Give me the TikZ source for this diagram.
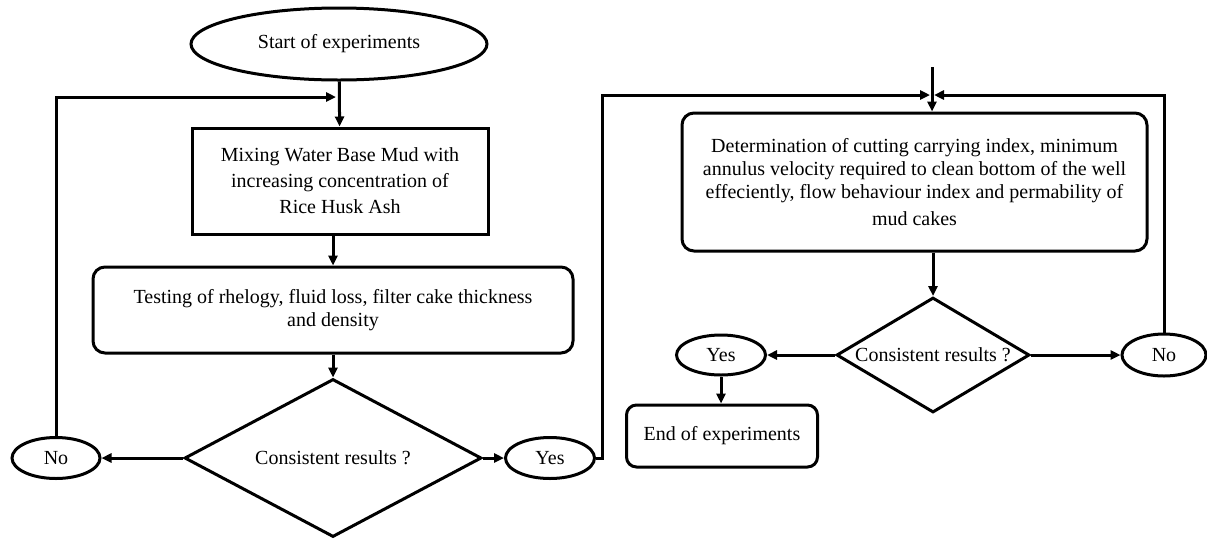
\documentclass[tikz,border=0pt]{standalone}
\usepackage{fontspec}
\setmainfont{Liberation Serif}
\usetikzlibrary{arrows.meta,shapes.geometric}
\begin{document}
\begin{tikzpicture}[x=1pt,y=-1pt,line width=3pt,
  font=\fontsize{20}{23}\selectfont,
  term/.style={draw,ellipse,inner sep=0pt},
  proc/.style={draw,rectangle,align=center,inner sep=0pt},
  rproc/.style={proc,rounded corners=12pt},
  dec/.style={draw,diamond,inner sep=0pt},
  arr/.style={-{Triangle[length=10pt,width=9pt]}}]
\useasboundingbox (0,0) rectangle (1207,539);

% left column
\node[term,minimum width=296,minimum height=72] (start) at (339,44) {Start of experiments};
\node[proc,minimum width=296,minimum height=106,font=\fontsize{20}{26}\selectfont] (mix) at (340,181)
  {Mixing Water Base Mud with\\increasing concentration of\\Rice Husk Ash};
\node[rproc,minimum width=480,minimum height=86] (test) at (333,310)
  {Testing of rhelogy, fluid loss, filter cake thickness\\and density};
\node[dec,minimum width=297,minimum height=158] (d1) at (333,458) {\makebox[0pt]{Consistent results ?}};
\node[term,minimum width=88,minimum height=41] (no1) at (56,458) {No};
\node[term,minimum width=89,minimum height=41] (yes1) at (550,458) {Yes};

% right column
\node[rproc,minimum width=465,minimum height=138] (det) at (914.5,182)
  {Determination of cutting carrying index, minimum\\annulus velocity required to clean bottom of the well\\effeciently, flow behaviour index and permability of\\[4pt]mud cakes};
\node[dec,minimum width=193,minimum height=115] (d2) at (933,355) {\makebox[0pt]{Consistent results ?}};
\node[term,minimum width=89,minimum height=40] (yes2) at (721,355) {Yes};
\node[term,minimum width=84,minimum height=42] (no2) at (1164,355) {No};
\node[rproc,rounded corners=10pt,minimum width=191,minimum height=62] (end) at (722,436) {End of experiments};

\coordinate (top) at (932,67);
\coordinate (j1) at (336,97);
\coordinate (r1) at (602,95);
\coordinate (j2) at (930,95);
\coordinate (j3) at (934,95);

% connectors
\draw[arr] (start) -- (mix);
\draw[arr] (test.north |- mix.south) -- (test.north);
\draw[arr] (test) -- (d1);
\draw[arr] (d1.west) -- (no1.east);
\draw[arr] (d1.east) -- (yes1.west);
\draw[arr] (no1.north) |- (j1);
\draw[arr] (yes1.east) -| (r1) -- (j2);
\draw[arr] (top) -- (det.north -| top);
\draw[arr] (no2.north) |- (j3);
\draw[arr] (det.south -| d2.north) -- (d2.north);
\draw[arr] (d2.west) -- (yes2.east);
\draw[arr] (d2.east) -- (no2.west);
\draw[arr] (yes2.south) -- (end.north -| yes2.south);
\end{tikzpicture}
\end{document}
